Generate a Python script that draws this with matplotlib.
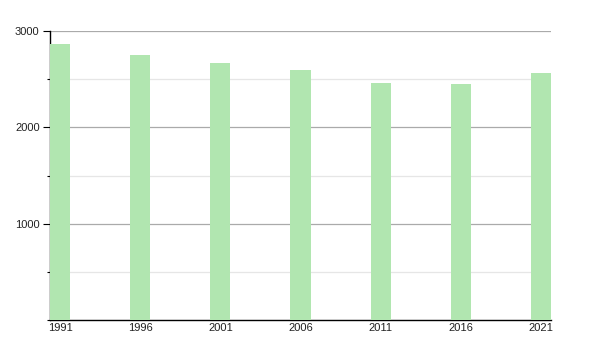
import matplotlib
matplotlib.use("Agg")
import matplotlib.pyplot as plt
from matplotlib.ticker import MultipleLocator

years = [1991, 1996, 2001, 2006, 2011, 2016, 2021]
population = [2866, 2755, 2669, 2596, 2458, 2450, 2568]
ytick_values = [1000, 2000, 3000]

plt.rcParams['font.family'] = ['Liberation Sans', 'DejaVu Sans']

fig = plt.figure(figsize=(6, 3.5), dpi=100)
ax = fig.add_axes([50/600, 30/350, 501/600, 289/350])

bar_w = 1.25
ax.bar(years, population, width=bar_w, color='#b1e6b0', edgecolor='none', zorder=3)

ax.set_xlim(years[0] - bar_w/2, years[-1] + bar_w/2)
ax.set_ylim(0, 3000)
ax.set_xticks(years)
ax.set_xticklabels([str(y) for y in years])
ax.set_yticks(ytick_values)
ax.yaxis.set_minor_locator(MultipleLocator(500))

ax.grid(which='major', axis='y', color='#aaaaaa', linewidth=0.9, zorder=0)
ax.grid(which='minor', axis='y', color='#e6e6e6', linewidth=0.9, zorder=0)

for s in ['top', 'right']:
    ax.spines[s].set_visible(False)
ax.spines['left'].set_color('black')
ax.spines['bottom'].set_color('black')
ax.spines['left'].set_linewidth(1.0)
ax.spines['bottom'].set_linewidth(1.0)

ax.tick_params(axis='y', which='major', length=5, width=0.8, pad=2.5, labelsize=8, labelcolor='#222222')
ax.tick_params(axis='y', which='minor', length=2.5, width=0.8)
ax.tick_params(axis='x', length=0, pad=2, labelsize=8, labelcolor='#222222')

fig.savefig('out.png', dpi=100)
